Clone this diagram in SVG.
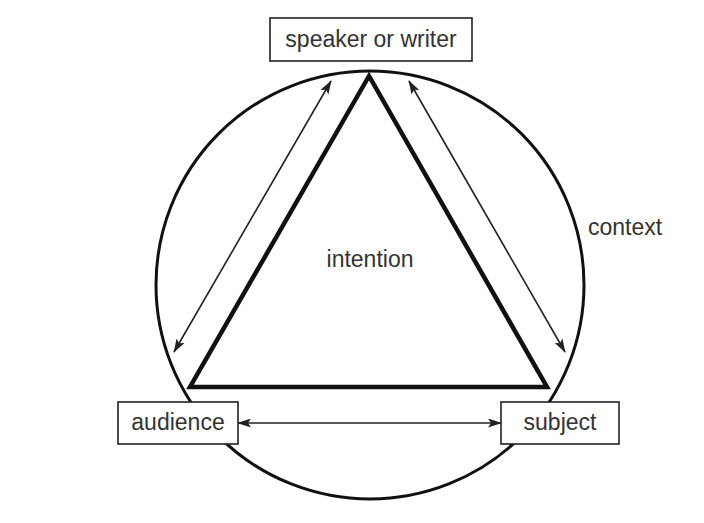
<svg xmlns="http://www.w3.org/2000/svg" width="704" height="523" viewBox="0 0 704 523">
<style>
.box{fill:#fff;stroke:#222;stroke-width:1.6}
.lbl{font-family:"Liberation Sans",Arial,sans-serif;font-size:23px;fill:#333;text-anchor:middle}
.arr{stroke:#222;stroke-width:1.6;fill:none;marker-start:url(#ah);marker-end:url(#ah)}
</style>
<defs>
<marker id="ah" viewBox="0 0 14 9" refX="13" refY="4.5" markerWidth="14" markerHeight="9" markerUnits="userSpaceOnUse" orient="auto-start-reverse">
<path d="M0,0 L14,4.5 L0,9 L3,4.5 Z" fill="#222"/>
</marker>
</defs>
<rect width="704" height="523" fill="#fff"/>
<g id="context">
<circle cx="370" cy="285" r="214" fill="none" stroke="#111" stroke-width="3"/>
<text class="lbl" x="625" y="235">context</text>
</g>
<g id="intention">
<polygon points="369,76 190,387 547,387" fill="none" stroke="#111" stroke-width="4.5" stroke-linejoin="miter"/>
<text class="lbl" x="370" y="267">intention</text>
</g>
<g id="connectors">
<line class="arr" x1="331" y1="81" x2="174" y2="352"/>
<line class="arr" x1="409" y1="81" x2="565" y2="352"/>
<line class="arr" x1="238" y1="423" x2="501" y2="423"/>
</g>
<g id="speaker">
<rect class="box" x="270" y="18" width="202" height="43"/>
<text class="lbl" x="371" y="47">speaker or writer</text>
</g>
<g id="audience">
<rect class="box" x="118" y="402" width="120" height="42"/>
<text class="lbl" x="178" y="430">audience</text>
</g>
<g id="subject">
<rect class="box" x="501" y="402" width="118" height="42"/>
<text class="lbl" x="560" y="430">subject</text>
</g>
</svg>
